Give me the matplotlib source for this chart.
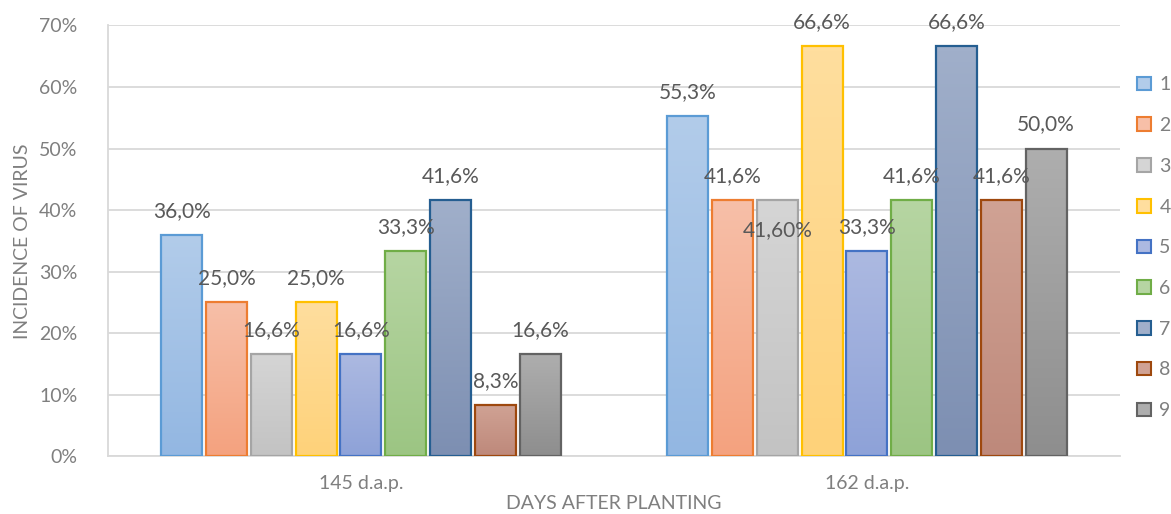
import matplotlib
matplotlib.use('Agg')
import matplotlib.pyplot as plt
import numpy as np
from matplotlib.colors import LinearSegmentedColormap
from matplotlib.patches import Rectangle
from matplotlib.ticker import FuncFormatter

categories = ['145 d.a.p.', '162 d.a.p.']
series_names = ['1', '2', '3', '4', '5', '6', '7', '8', '9']
values_145 = [36.0, 25.0, 16.6, 25.0, 16.6, 33.3, 41.6, 8.3, 16.6]
values_162 = [55.3, 41.6, 41.6, 66.6, 33.3, 41.6, 66.6, 41.6, 50.0]
labels_145 = ['36,0%', '25,0%', '16,6%', '25,0%', '16,6%', '33,3%', '41,6%', '8,3%', '16,6%']
labels_162 = ['55,3%', '41,6%', '41,60%', '66,6%', '33,3%', '41,6%', '66,6%', '41,6%', '50,0%']

# (edge, top of gradient, bottom of gradient)
palette = [
    ('#5B9BD5', '#B2CCEA', '#93B7E2'),
    ('#ED7D31', '#F7BFA8', '#F4A27F'),
    ('#A5A5A5', '#D5D5D5', '#C3C3C3'),
    ('#FFC000', '#FFDE9E', '#FED27A'),
    ('#4472C4', '#ACB9E1', '#8EA2D8'),
    ('#70AD47', '#B6D5A2', '#9CC583'),
    ('#255E91', '#A0AFCA', '#7D8FB2'),
    ('#9E480E', '#D0A294', '#BE897B'),
    ('#636363', '#AEAEAE', '#8E8E8E'),
]

font = 'Lato'
grey = '#7F7F7F'
label_grey = '#595959'

fig = plt.figure(figsize=(11.71, 5.14), dpi=100)
ax = fig.add_axes([0.0922, 0.1128, 0.8642, 0.8376])

slot = 0.0885
width = 0.081
n = len(series_names)
data = [values_145, values_162]
texts = [labels_145, labels_162]

for gi, vals in enumerate(data):
    for si in range(n):
        v = vals[si]
        x0 = gi + (si - (n - 1) / 2) * slot - width / 2
        edge, top, bottom = palette[si]
        cmap = LinearSegmentedColormap.from_list('g%d' % si, [bottom, top])
        rect = Rectangle((x0, 0), width, v, facecolor='none', edgecolor=edge,
                         linewidth=1.6, zorder=3)
        ax.add_patch(rect)
        grad = np.linspace(0, 1, 64).reshape(-1, 1)
        im = ax.imshow(grad, cmap=cmap, origin='lower', aspect='auto',
                       extent=(x0, x0 + width, 0, v), zorder=2, interpolation='bilinear')
        im.set_clip_path(rect)
        # one label was pushed down inside the bars
        dy = 24 if not (gi == 1 and si == 2) else -30
        ax.annotate(texts[gi][si], (x0 + width / 2, v), xytext=(0, dy),
                    textcoords='offset pixels',
                    ha='center', va='center', fontsize=15, color=label_grey,
                    family=font, zorder=4)

ax.set_xlim(-0.5, 1.5)
ax.set_ylim(0, 70)
ax.set_yticks(range(0, 71, 10))
ax.yaxis.set_major_formatter(FuncFormatter(lambda y, p: '%d%%' % y))
ax.set_xticks([0, 1])
ax.set_xticklabels(categories)
ax.grid(axis='y', color='#D9D9D9', linewidth=1.3, zorder=0)
ax.set_axisbelow(True)
for s in ['top', 'right']:
    ax.spines[s].set_visible(False)
ax.spines['left'].set_color('#D9D9D9')
ax.spines['bottom'].set_color('#D9D9D9')
ax.spines['left'].set_linewidth(1.3)
ax.spines['bottom'].set_linewidth(1.3)
ax.tick_params(axis='both', length=0, labelsize=14, labelcolor=grey)
ax.tick_params(axis='y', pad=22)
ax.tick_params(axis='x', pad=14)
for t in ax.get_xticklabels() + ax.get_yticklabels():
    t.set_family(font)

ax.set_ylabel('INCIDENCE OF VIRUS', fontsize=14, color=grey, family=font, labelpad=6)
ax.set_xlabel('DAYS AFTER PLANTING', fontsize=14, color=grey, family=font, labelpad=2)

handles = [Rectangle((0, 0), 1, 1, facecolor=p[1], edgecolor=p[0], linewidth=1.5)
           for p in palette]
leg = fig.legend(handles, series_names, loc='center left', bbox_to_anchor=(0.971, 0.518),
                 frameon=False, borderpad=0, borderaxespad=0,
                 handlelength=0.7, handleheight=0.7, handletextpad=0.45,
                 labelspacing=1.22, prop={'family': font, 'size': 14})
for t in leg.get_texts():
    t.set_color(grey)

fig.savefig('out.png', dpi=100)
